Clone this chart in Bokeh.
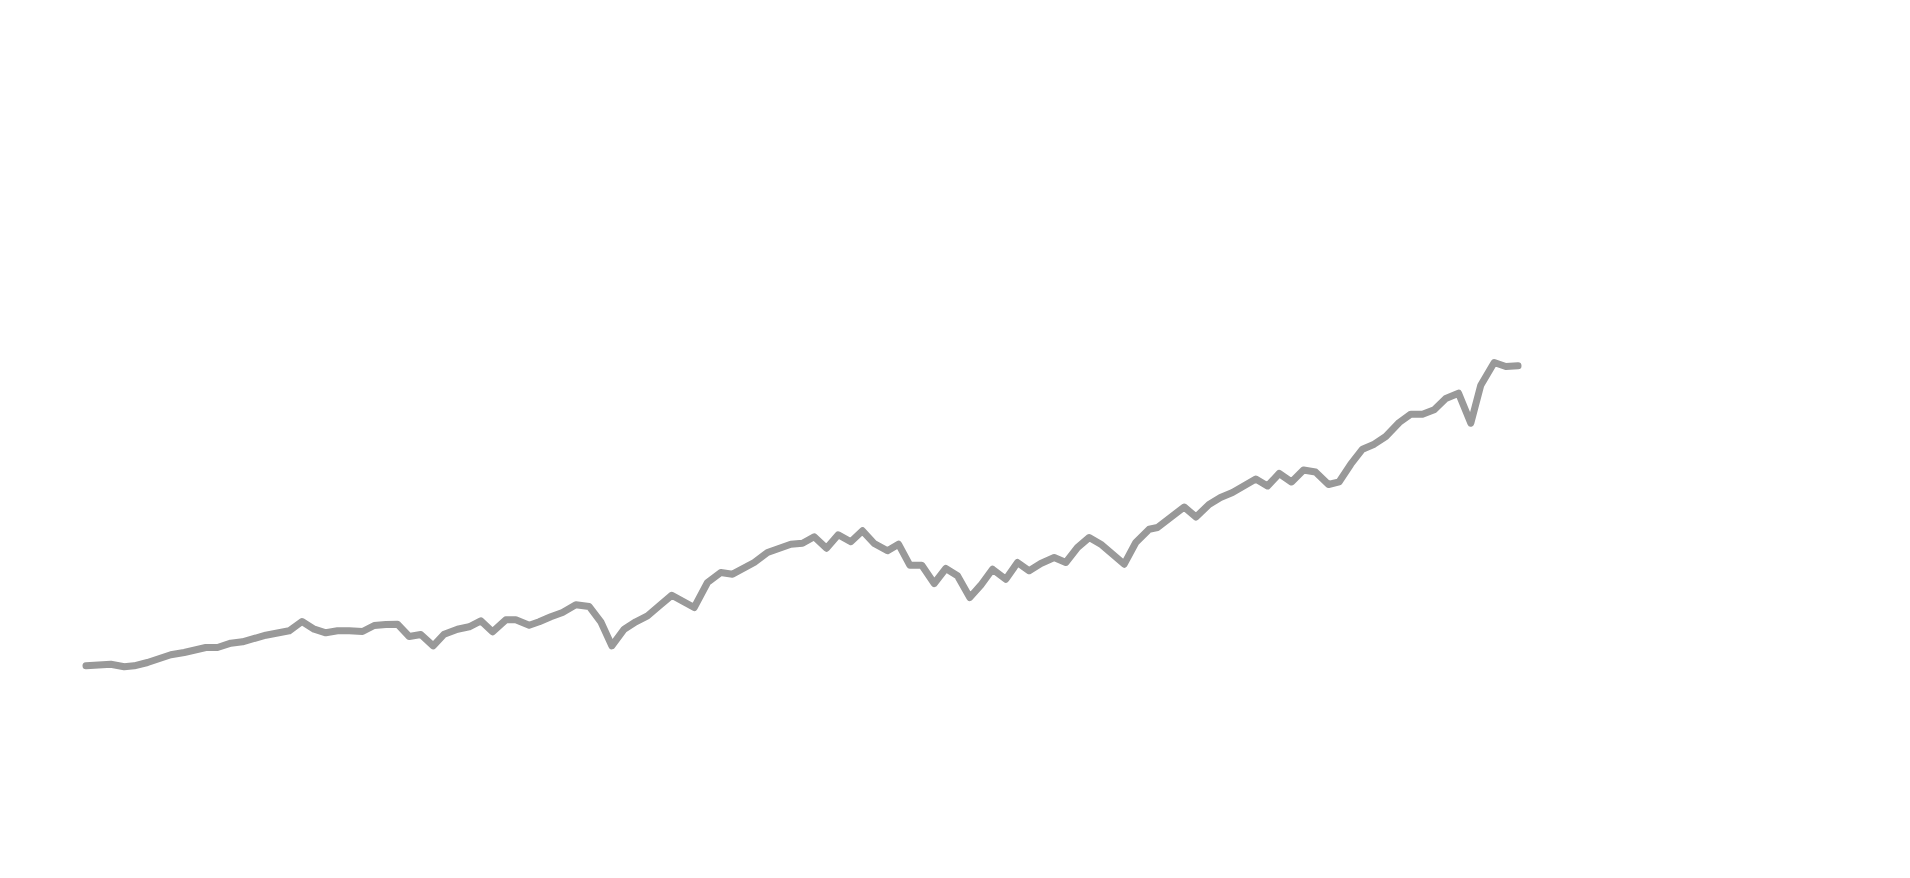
from bokeh.plotting import figure
from bokeh.models import Range1d, ColumnDataSource
from bokeh.embed import file_html
from bokeh.resources import INLINE

# time position (arbitrary units) and series value
t = [93.5, 118.3, 131.7, 141.7, 155, 178.3, 191.7, 213.3, 225, 238.3,
     250, 273.3, 296.7, 309.5, 321.7, 333.3, 345, 356.7, 370, 381.7,
     393.3, 405, 416.7, 428.3, 440.7, 451.7, 465, 476.7, 488.3, 500,
     513.3, 523.3, 536.7, 546.7, 558.3, 570, 583.3, 596.7, 608.3, 619.3,
     631.7, 643.3, 655, 666.7, 679.3, 701.7, 715, 728.3, 740, 761.7,
     775, 798.3, 810, 821.7, 834, 845.7, 858.3, 870, 881.7, 895,
     906, 917.3, 929.3, 941.7, 953.3, 965, 977.3, 988.3, 1000, 1013.3,
     1025, 1036.7, 1048.3, 1061.7, 1073.3, 1085, 1096.7, 1108.3, 1120, 1131.7,
     1143.3, 1156.7, 1165, 1191.7, 1203.5, 1216.5, 1228, 1240, 1263.3, 1275,
     1286.7, 1299, 1311, 1323, 1336, 1346.7, 1358.3, 1370, 1381.7, 1393.3,
     1406.7, 1418.3, 1430, 1441.7, 1453.3, 1466, 1478.3, 1488.3, 1501.7, 1513.3,
     1525.5]

y_px = [673.3, 671.7, 674.3, 673.3, 670, 662.3, 660, 655, 655, 650.7,
        649.3, 642.7, 638.3, 629, 636.7, 640.3, 638.3, 638.3, 639, 633,
        632, 631.7, 644, 642, 653.3, 641.7, 636.7, 634.3, 628.3, 639.3,
        627.3, 627.3, 632.7, 629.3, 624.3, 620, 612.3, 614, 629.3, 653.3,
        636.7, 629.3, 623.3, 613.3, 602.7, 615, 590, 580, 581.7, 570,
        560, 551.7, 550.7, 544.3, 555.7, 542.3, 549.3, 538.3, 551, 558.3,
        551.7, 572.7, 572.7, 591, 576, 583.3, 605, 592.7, 576.7, 586.7,
        570, 578.3, 571, 565, 570, 555, 545, 551.7, 561.7, 571.7,
        550, 536.7, 535, 514.5, 524.5, 512, 505, 500, 486.5, 493.5,
        481, 489.5, 477.5, 479.5, 492, 489.3, 471.7, 456.7, 451.7, 444,
        430, 421.7, 421.7, 417.3, 406, 400.7, 430.7, 392.7, 370, 374,
        373.3]

value = [round(700 - v, 1) for v in y_px]

W, H = 1894, 862
p = figure(width=W, height=H, output_backend="svg", toolbar_location=None,
           x_axis_type=None, y_axis_type=None, min_border=0,
           x_range=Range1d(8, 8 + W), y_range=Range1d(700 - (8 + H), 700 - 8))
p.grid.visible = False
p.outline_line_color = None
p.background_fill_color = "white"
p.border_fill_color = "white"

src = ColumnDataSource(dict(t=t, value=value))
p.line("t", "value", source=src, line_color="#999999", line_width=7,
       line_join="round", line_cap="round")

open("out.html", "w").write(file_html(p, INLINE))
